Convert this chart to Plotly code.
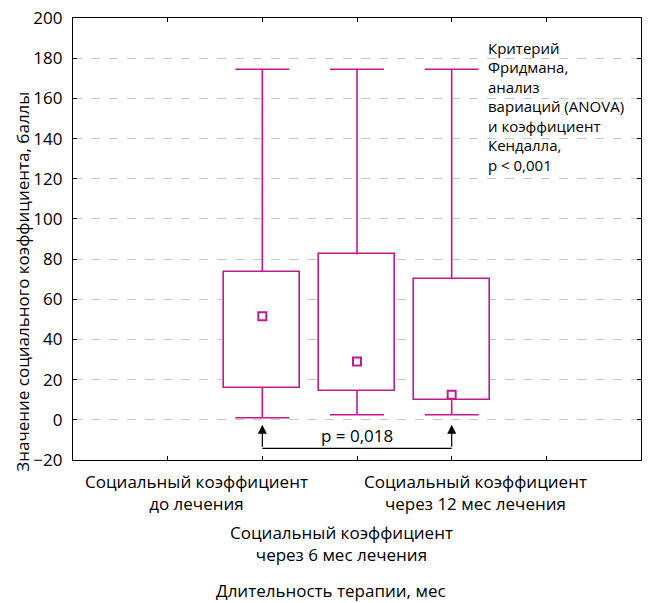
import plotly.graph_objects as go

# ---- data ----
positions = [2, 3, 4]
mins = [1.0, 2.5, 2.5]
q1 = [16.0, 14.5, 9.8]
medians = [51.5, 29.0, 12.5]
q3 = [73.5, 82.3, 70.1]
maxs = [174.5, 174.5, 174.5]
category_labels = [
    "Социальный коэффициент<br>до лечения",
    "Социальный коэффициент<br>через 6 мес лечения",
    "Социальный коэффициент<br>через 12 мес лечения",
]
y_ticks = [-20, 0, 20, 40, 60, 80, 100, 120, 140, 160, 180, 200]
p_pair = [2, 4]
p_text = "p = 0,018"
stat_lines = ["Критерий", "Фридмана,", "анализ", "вариаций (ANOVA)",
              "и коэффициент", "Кендалла,", "p < 0,001"]

MAG = "#C21A8E"
FONT = "Open Sans"
box_w = 0.8
cap_w = 0.57

# plot-area pixel geometry (for placing free text)
L, R, T, B = 73, 642, 14, 460
def px_x(px):
    return (px - L) / (R - L)
def px_y(py):
    return (B - py) / (B - T)

fig = go.Figure()

# boxes (quartiles) as bars
fig.add_trace(go.Bar(
    x=positions, base=q1, y=[b - a for a, b in zip(q1, q3)], width=box_w,
    marker=dict(color="white", line=dict(color=MAG, width=1.6)),
    showlegend=False, hoverinfo="skip"))

# whiskers
wx, wy = [], []
for p, lo, a, b, hi in zip(positions, mins, q1, q3, maxs):
    wx += [p, p, None, p, p, None, p - cap_w / 2, p + cap_w / 2, None, p - cap_w / 2, p + cap_w / 2, None]
    wy += [b, hi, None, a, lo, None, hi, hi, None, lo, lo, None]
fig.add_trace(go.Scatter(x=wx, y=wy, mode="lines", line=dict(color=MAG, width=1.6),
                         showlegend=False, hoverinfo="skip"))

# medians
fig.add_trace(go.Scatter(x=positions, y=medians, mode="markers",
                         marker=dict(symbol="square-open", size=8, color=MAG, line=dict(width=2, color=MAG)),
                         showlegend=False))

# bracket
y_br = -14.2
y_tip = -2.5
fig.add_shape(type="line", xref="x", yref="y", x0=p_pair[0], x1=p_pair[1], y0=y_br, y1=y_br,
              line=dict(color="black", width=1.2))
for p in p_pair:
    fig.add_annotation(x=p, y=y_tip, ax=p, ay=y_br, xref="x", yref="y", axref="x", ayref="y",
                       showarrow=True, arrowhead=2, arrowsize=1.5, arrowwidth=1.2, arrowcolor="black", text="")
fig.add_annotation(x=(p_pair[0] + p_pair[1]) / 2, y=-8, xref="x", yref="y", text=p_text,
                   showarrow=False, font=dict(family=FONT, size=17, color="black"))

# stat text, one line at a time
for i, line in enumerate(stat_lines):
    fig.add_annotation(x=px_x(487), y=px_y(44 + i * 19.7), xref="paper", yref="paper",
                       xanchor="left", yanchor="middle", align="left", text=line, showarrow=False,
                       font=dict(family=FONT, size=15, color="black"))

# category labels
lab_pos = [(197, 492.5), (342, 544), (476, 492.5)]
for (cx, cy), t in zip(lab_pos, category_labels):
    fig.add_annotation(x=px_x(cx), y=px_y(cy), xref="paper", yref="paper", text=t,
                       showarrow=False, xanchor="center", yanchor="middle", align="center",
                       font=dict(family=FONT, size=17, color="black"))

fig.add_annotation(x=px_x(331), y=px_y(592), xref="paper", yref="paper",
                   text="Длительность терапии, мес", showarrow=False, xanchor="center", yanchor="middle",
                   font=dict(family=FONT, size=17, color="black"))
fig.add_annotation(x=px_x(23), y=px_y(280), xref="paper", yref="paper",
                   text="Значение социального коэффициента, баллы", showarrow=False, textangle=-90,
                   xanchor="center", yanchor="middle",
                   font=dict(family=FONT, size=17, color="black"))

fig.update_layout(
    width=648, height=603,
    margin=dict(l=L, r=648 - R, t=T, b=603 - B),
    paper_bgcolor="white", plot_bgcolor="white",
    font=dict(family=FONT, color="black"),
    bargap=0,
    xaxis=dict(range=[0, 6], tickvals=[1, 2, 3, 4, 5], showticklabels=False,
               ticks="inside", ticklen=4, tickcolor="black", showgrid=False, zeroline=False,
               showline=True, linecolor="black", linewidth=1.2, mirror="ticks"),
    yaxis=dict(range=[-20, 200], tickvals=y_ticks, ticks="inside", ticklen=4, tickcolor="black",
               showgrid=True, gridcolor="#c8c8c8", griddash="dash", gridwidth=1, zeroline=False,
               showline=True, linecolor="black", linewidth=1.2, mirror="ticks",
               tickfont=dict(family=FONT, size=17, color="black"), ticklabelstandoff=6),
)

fig.write_html("out.html")
